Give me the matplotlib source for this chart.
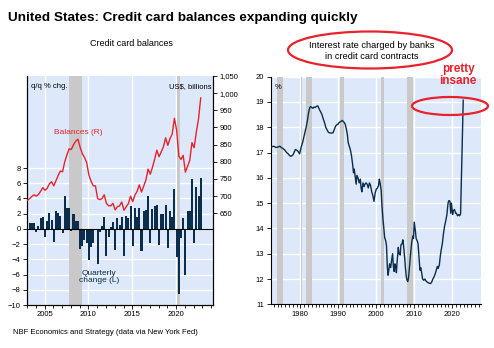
import numpy as np
import pandas as pd
import matplotlib
matplotlib.use("Agg")
import matplotlib.pyplot as plt
from matplotlib.patches import Ellipse
from matplotlib.ticker import FuncFormatter, MultipleLocator

plt.rcParams['font.family'] = ['Liberation Sans', 'DejaVu Sans']

# credit card balances, US$ billions, 2003Q1..2022Q4
balances = [688, 693, 699, 704, 700, 705, 714, 725, 717, 723, 736, 742,
            730, 745, 760, 773, 771, 800, 820, 838, 836, 850, 860, 866,
            843, 824, 813, 798, 762, 744, 730, 730, 693, 690, 693, 704,
            679, 672, 672, 679, 660, 669, 672, 683, 659, 669, 678, 700,
            684, 703, 714, 733, 712, 729, 747, 779, 764, 784, 808, 834,
            815, 829, 844, 870, 848, 868, 881, 927, 893, 817, 807, 819,
            770, 787, 804, 856, 841, 887, 925, 986]

# quarterly % change, 2003Q2..2022Q4
qq_change = [0.8, 0.8, 0.8,
             -0.4, 0.4, 1.4, 1.6,
             -1.0, 1.1, 2.1, 1.2,
             -1.7, 2.3, 2.1, 1.7,
             -0.5, 4.3, 2.7, 2.7,
             -0.3, 1.9, 1.0, 1.0,
             -2.7, -2.3, -1.5, -1.8,
             -4.1, -2.4, -1.8, -0.2,
             -4.6, -0.4, 0.4, 1.6,
             -3.6, -1.1, 0.2, 0.9,
             -2.8, 1.4, 0.5, 1.6,
             -3.5, 1.7, 1.4, 3.0,
             -2.3, 2.8, 1.6, 2.7,
             -2.9, 2.4, 2.5, 4.3,
             -1.9, 2.6, 3.0, 3.2,
             -2.1, 1.9, 2.0, 3.1,
             -2.5, 2.4, 1.6, 5.3,
             -3.7, -8.5, -1.2, 1.5,
             -6.1, 2.3, 2.3, 6.6,
             -1.8, 5.5, 4.3, 6.7]

# interest rate on credit card plans (%)
rate_years = [1972.2, 1973.0, 1973.6, 1974.1, 1974.6, 1975.0, 1975.5, 1975.9, 1976.4, 1976.8,
              1977.2, 1977.5, 1977.8, 1978.1, 1978.5, 1978.7, 1979.0, 1979.4, 1979.8, 1980.2,
              1980.6, 1981.0, 1981.3, 1981.6, 1981.9, 1982.2, 1982.5, 1982.7, 1983.0, 1983.3,
              1983.6, 1983.9, 1984.2, 1984.6, 1984.9, 1985.1, 1985.4, 1985.7, 1986.0, 1986.4,
              1986.7, 1987.1, 1987.4, 1987.7, 1988.1, 1988.6, 1988.9, 1989.3, 1989.6, 1989.9,
              1990.3, 1990.6, 1991.0, 1991.4, 1991.8, 1992.1, 1992.4, 1992.6, 1992.8, 1993.2,
              1993.5, 1993.8, 1994.0, 1994.2, 1994.5, 1994.7, 1994.9, 1995.2, 1995.5, 1995.8,
              1996.0, 1996.2, 1996.5, 1996.8, 1997.0, 1997.3, 1997.6, 1997.9, 1998.2, 1998.5,
              1998.8, 1999.1, 1999.4, 1999.7, 2000.0, 2000.3, 2000.6, 2000.8, 2001.0, 2001.3,
              2001.5, 2001.8, 2002.0, 2002.2, 2002.5, 2002.7, 2002.9, 2003.1, 2003.3, 2003.5,
              2003.8, 2004.0, 2004.3, 2004.5, 2004.7, 2004.9, 2005.1, 2005.3, 2005.5, 2005.8,
              2006.0, 2006.3, 2006.5, 2006.8, 2007.0, 2007.2, 2007.5, 2007.7, 2007.9, 2008.1,
              2008.3, 2008.5, 2008.8, 2009.1, 2009.3, 2009.6, 2009.8, 2010.0, 2010.3, 2010.5,
              2010.8, 2011.0, 2011.3, 2011.5, 2011.7, 2011.9, 2012.2, 2012.5, 2012.8, 2013.1,
              2013.4, 2013.7, 2014.0, 2014.3, 2014.6, 2014.9, 2015.2, 2015.5, 2015.8, 2016.1,
              2016.3, 2016.6, 2016.9, 2017.1, 2017.4, 2017.7, 2018.0, 2018.3, 2018.6, 2018.9,
              2019.1, 2019.4, 2019.6, 2019.8, 2020.1, 2020.3, 2020.6, 2020.9, 2021.1, 2021.4,
              2021.7, 2021.9, 2022.2, 2022.9]
rate_values = [17.22, 17.25, 17.2, 17.22, 17.25, 17.2, 17.15, 17.1, 17.0, 16.95,
               16.88, 16.85, 16.88, 16.92, 17.05, 17.12, 17.1, 17.05, 16.95, 17.2,
               17.4, 17.65, 17.85, 18.05, 18.3, 18.6, 18.78, 18.82, 18.78, 18.75,
               18.8, 18.78, 18.82, 18.85, 18.75, 18.68, 18.6, 18.5, 18.35, 18.17,
               18.0, 17.88, 17.8, 17.78, 17.77, 17.78, 17.9, 18.05, 18.1, 18.12,
               18.2, 18.22, 18.27, 18.22, 18.13, 17.95, 17.7, 17.4, 17.3, 17.1,
               16.85, 16.5, 16.2, 16.35, 16.0, 15.75, 16.1, 16.0, 15.8, 15.95,
               15.6, 15.45, 15.8, 15.65, 15.75, 15.8, 15.75, 15.6, 15.8, 15.7,
               15.45, 15.3, 15.07, 15.4, 15.55, 15.6, 15.7, 15.95, 15.8, 15.5,
               14.9, 14.3, 14.0, 13.65, 13.5, 13.3, 12.5, 12.15, 12.35, 12.6,
               12.45, 12.7, 13.0, 12.5, 12.3, 12.6, 12.5, 12.25, 12.7, 13.25,
               13.0, 12.95, 13.35, 13.4, 13.55, 13.3, 12.8, 12.4, 12.1, 11.95,
               11.9, 12.05, 12.6, 13.1, 13.4, 13.7, 13.6, 14.25, 13.9, 13.6,
               13.5, 13.4, 12.8, 12.35, 12.45, 12.3, 12.0, 11.95, 12.0, 11.92,
               11.88, 11.85, 11.83, 11.82, 11.88, 12.0, 12.08, 12.2, 12.35, 12.5,
               12.42, 12.55, 12.95, 13.15, 13.4, 13.8, 14.1, 14.3, 14.55, 15.0,
               15.1, 15.08, 14.6, 15.0, 14.55, 14.7, 14.75, 14.6, 14.6, 14.5,
               14.55, 14.5, 14.56, 19.07]

recessions_left = [(2007.8, 2009.3), (2020.1, 2020.45)]
recessions_right = [(1973.85, 1975.5), (1980.1, 1980.55), (1981.45, 1982.95),
                    (1990.45, 1991.45), (2001.25, 2001.95), (2008.0, 2009.65)]

BG = '#dde9fa'
NAVY = '#0b2e4c'
RED = '#e8222c'
GREY = '#c9c9c9'

W, H = 494, 348
fig = plt.figure(figsize=(W / 100, H / 100), dpi=100)


def fx(px):
    return px / W


def fy(py):
    return 1 - py / H


quarters = pd.period_range('2003Q1', '2022Q4', freq='Q')
qx = np.array([q.year + (q.quarter - 1) / 4 + 0.05 for q in quarters])

# ---- left panel ----
ax = fig.add_axes([fx(27), fy(305), fx(186), 229 / H])
ax.set_facecolor(BG)
for a, b in recessions_left:
    ax.axvspan(a, b, color=GREY, lw=0, zorder=1)
for v in range(-10, 10, 2):
    ax.axhline(v, color='white', lw=1, zorder=0.5)
for yr in [2005, 2010, 2015, 2020]:
    ax.axvline(yr, color='white', lw=1, zorder=0.5)
ax.bar(qx[1:], qq_change, width=0.23, color=NAVY, lw=0, zorder=3)
ax.axhline(0, color='black', lw=0.8, zorder=4)
ax.set_xlim(2003.0, 2024.2)
ax.set_ylim(-10, 20.1)
ax.set_yticks(range(-10, 10, 2))
ax.set_xticks([2005, 2010, 2015, 2020])
ax.xaxis.set_minor_locator(MultipleLocator(1))
ax.tick_params(labelsize=5.5, length=3, width=0.6, pad=1.5)
ax.tick_params(axis='x', which='minor', length=2, width=0.6)
ax.spines['top'].set_visible(False)

ax2 = ax.twinx()
ax2.plot(qx, balances, color=RED, lw=1.0, zorder=5)
ax2.set_ylim(383, 1050)
ax2.set_yticks(range(650, 1051, 50))
ax2.yaxis.set_major_formatter(FuncFormatter(lambda v, p: f'{v:,.0f}'))
ax2.tick_params(labelsize=5.5, length=3, width=0.6, pad=1.5)
ax2.spines['top'].set_visible(False)

ax.text(0.02, 0.97, 'q/q % chg.', transform=ax.transAxes, fontsize=5.5, va='top', ha='left')
ax.text(0.99, 0.97, 'US$, billions', transform=ax.transAxes, fontsize=5.5, va='top', ha='right')
fig.text(fx(78), fy(132), 'Balances (R)', color=RED, fontsize=6, ha='center', va='center')
fig.text(fx(99), fy(277), 'Quarterly\nchange (L)', color=NAVY, fontsize=6, ha='center',
         va='center', linespacing=1.1)

# ---- right panel ----
bx = fig.add_axes([fx(270.7), fy(304.3), fx(210), 227.6 / H])
bx.set_facecolor(BG)
for a, b in recessions_right:
    bx.axvspan(a, b, color=GREY, lw=0, zorder=1)
for v in range(12, 21):
    bx.axhline(v, color='white', lw=1, zorder=0.5)
for yr in range(1980, 2030, 10):
    bx.axvline(yr, color='white', lw=1, zorder=0.5)
bx.plot(rate_years, rate_values, color=NAVY, lw=1.0, zorder=3)
bx.set_xlim(1972.2, 2027.5)
bx.set_ylim(11, 20)
bx.set_yticks(range(11, 21))
bx.set_xticks(range(1980, 2030, 10))
bx.xaxis.set_minor_locator(MultipleLocator(1))
bx.tick_params(labelsize=5.5, length=3, width=0.6, pad=1.5)
bx.tick_params(axis='x', which='minor', length=2, width=0.6)
bx.spines['top'].set_visible(False)
bx.spines['right'].set_visible(False)
bx.text(0.02, 0.97, '%', transform=bx.transAxes, fontsize=5.5, va='top', ha='left')

# ---- titles and annotations ----
fig.text(fx(8), fy(18), 'United States: Credit card balances expanding quickly',
         fontsize=9.7, fontweight='bold', ha='left', va='center')
fig.text(fx(131), fy(44), 'Credit card balances', fontsize=6.5, ha='center', va='center')
fig.text(fx(372), fy(51), 'Interest rate charged by banks\nin credit card contracts',
         fontsize=6.7, ha='center', va='center', linespacing=1.3)
fig.patches.append(Ellipse((fx(370), fy(50)), fx(164), 37 / H, transform=fig.transFigure,
                           fill=False, edgecolor=RED, lw=1.6))
fig.text(fx(458), fy(75), 'pretty\ninsane', color=RED, fontsize=8.5, fontweight='bold',
         ha='center', va='center', linespacing=1.0)
fig.patches.append(Ellipse((fx(450), fy(106)), fx(76), 18 / H, transform=fig.transFigure,
                           fill=False, edgecolor=RED, lw=1.6))
fig.text(fx(13), fy(333), 'NBF Economics and Strategy (data via New York Fed)',
         fontsize=5.5, ha='left', va='center')

fig.savefig('out.png', dpi=100)
